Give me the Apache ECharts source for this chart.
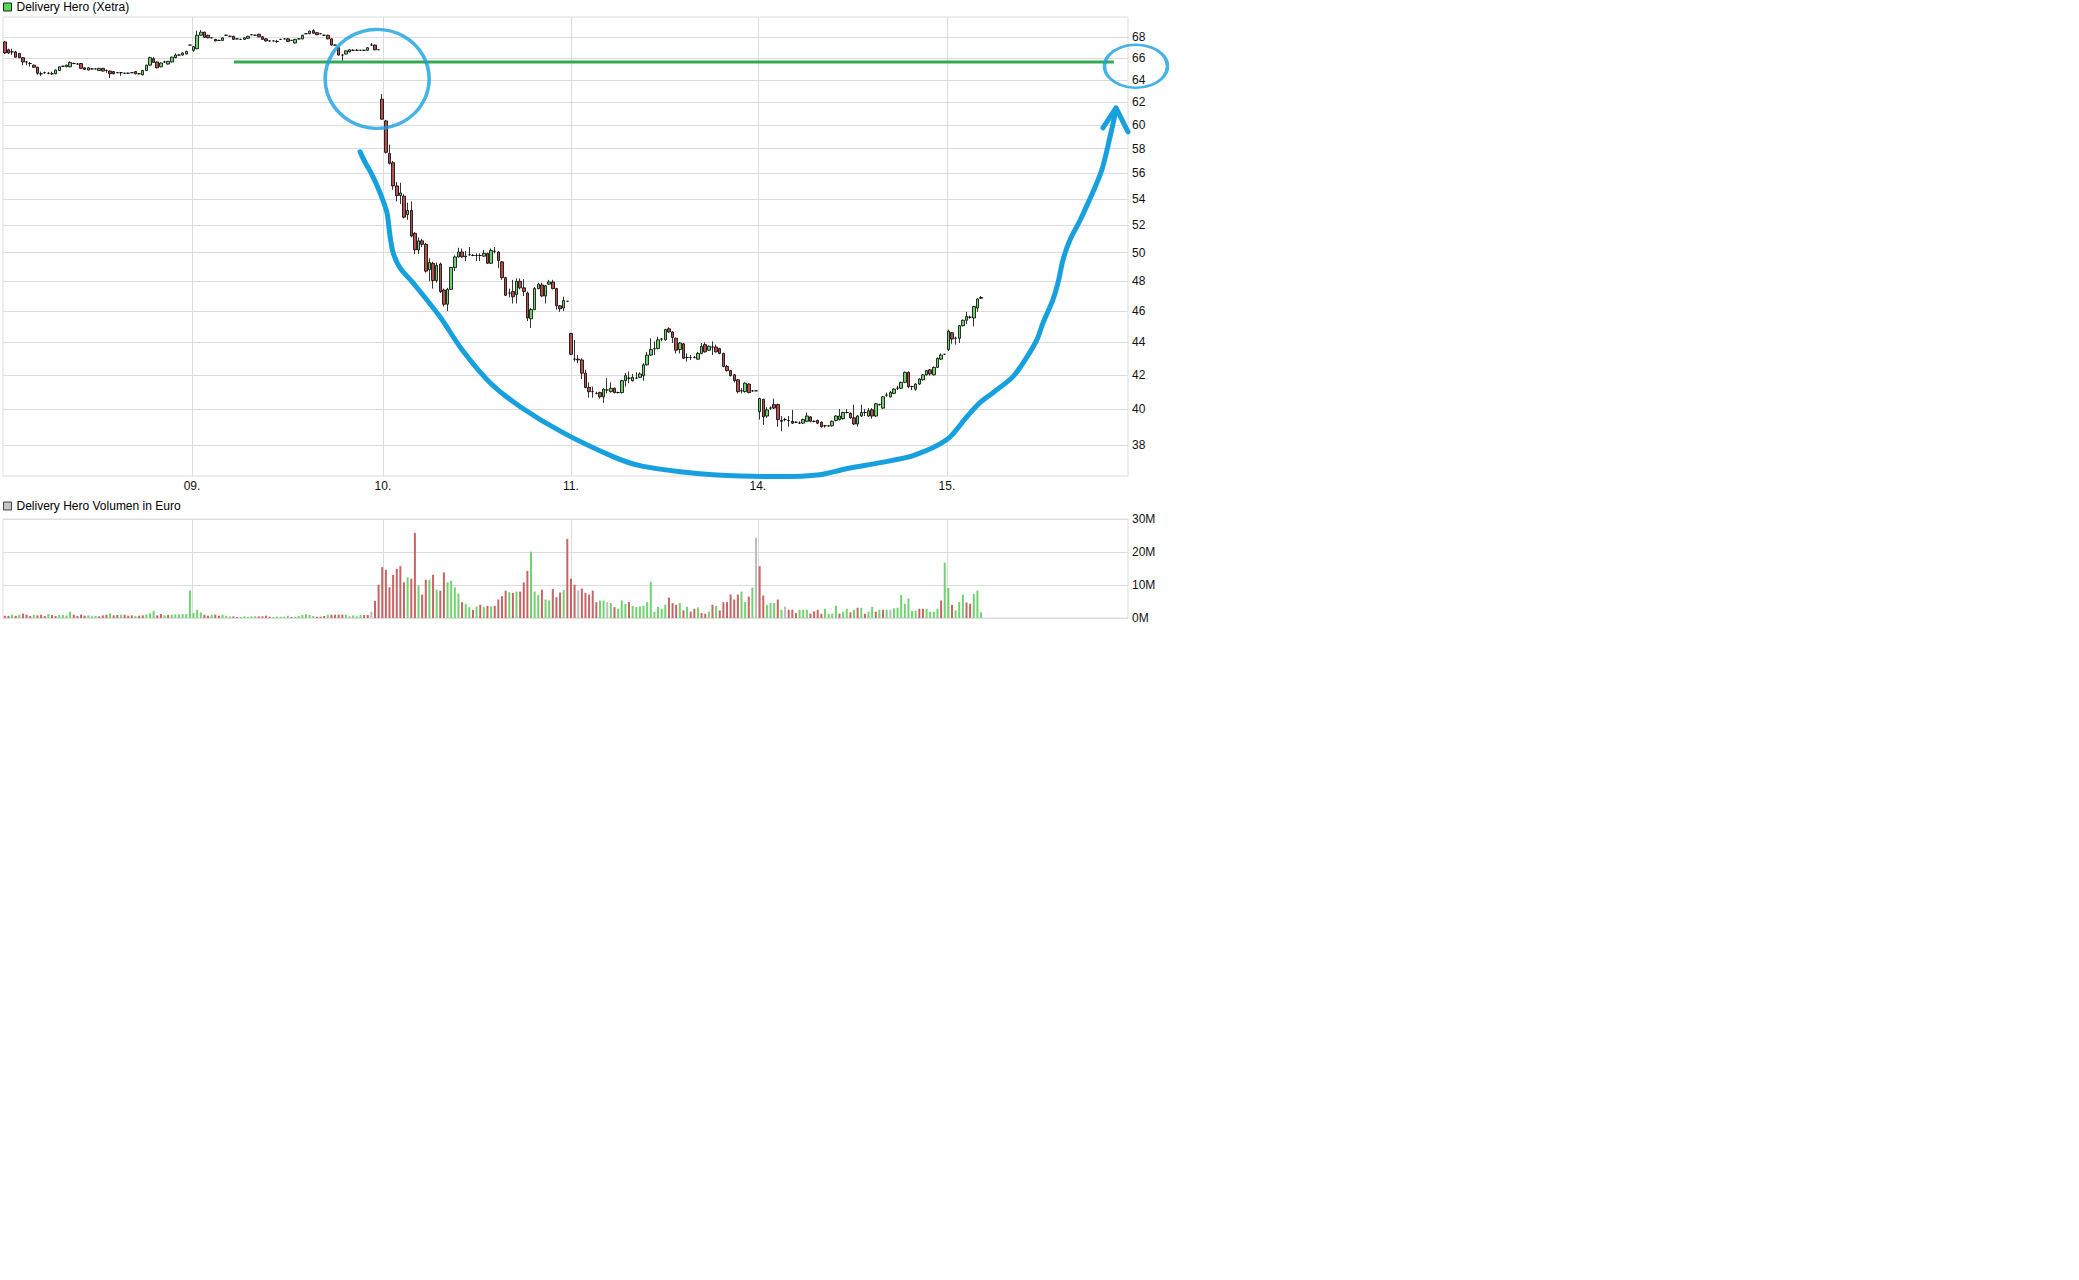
<!DOCTYPE html>
<html><head><meta charset="utf-8">
<script src="https://cdn.jsdelivr.net/npm/echarts@6/dist/echarts.min.js"></script>
<style>html,body{margin:0;padding:0;background:#fff}#c{width:2079px;height:1280px}</style>
</head><body><div id="c"></div>
<script>
// ---------- data ----------
const dayLabels = ['08.', '09.', '10.', '11.', '14.', '15.'];
const slotsPerDay = 52;          // 10-minute slots, 09:00 .. 17:30
const totalSlots = 310;          // axis length (last day partly empty)
const dayTickSlots = [52.08, 104.7, 156.5, 208.0, 260.1];   // where the day gridlines 09. .. 15. sit
const priceTicks = [38, 40, 42, 44, 46, 48, 50, 52, 54, 56, 58, 60, 62, 64, 66, 68];
const priceMin = 36.35, priceMax = 70;
const volumeMax = 30, volumeStep = 10;

// candles: [open, close, low, high]
const day08 = [
[67.55,66.5,66.4,67.65],[66.8,66.5,66.4,66.9],[66.6,66.6,66.3,66.9],[66.6,66.1,66.05,66.7],[66.45,66.05,66.0,66.5],
[66.05,65.65,65.35,66.1],[65.65,65.65,65.35,65.75],[65.5,65.5,65.2,65.65],[65.35,65.15,65.1,65.4],[65.15,64.6,64.45,65.2],
[64.55,64.55,64.35,64.75],[64.65,64.65,64.55,64.75],[64.6,64.6,64.5,64.7],[64.55,64.55,64.45,64.75],[64.55,64.9,64.5,64.95],
[64.85,65.2,64.8,65.25],[65.25,65.25,65.2,65.3],[65.2,65.35,65.15,65.4],[65.2,65.6,65.15,65.7],[65.5,65.5,65.45,65.6],
[65.45,65.45,65.4,65.55],[65.5,65.05,65.0,65.55],[65.1,64.95,64.9,65.15],[64.9,65.1,64.85,65.15],[65.0,65.0,64.95,65.05],
[65.0,65.0,64.95,65.05],[64.85,65.05,64.8,65.1],[65.05,64.8,64.75,65.1],[64.85,64.85,64.65,64.95],[64.8,64.55,64.15,64.85],
[64.75,64.55,64.5,64.8],[64.65,64.65,64.6,64.7],[64.65,64.65,64.35,64.7],[64.6,64.6,64.55,64.65],[64.6,64.6,64.55,64.65],
[64.65,64.65,64.6,64.7],[64.75,64.55,64.5,64.8],[64.55,64.55,64.5,64.6],[64.45,64.85,64.4,64.9],[64.85,65.35,64.8,65.4],
[65.35,66.05,65.3,66.15],[65.95,65.6,65.55,66.1],[65.65,65.1,65.05,65.7],[65.2,65.55,65.15,65.6],[65.65,65.65,65.55,65.75],
[65.45,65.7,65.4,65.75],[65.65,66.1,65.6,66.15],[66.05,66.3,66.0,66.45],[66.3,66.3,66.25,66.35],[66.3,66.5,66.25,66.55],
[66.4,66.65,66.35,66.7],[67.25,67.25,67.25,67.25]
];
const day09 = [
[66.75,67.1,66.6,67.15],[66.9,68.2,66.85,68.65],[68.2,68.5,68.15,68.7],[68.5,68.0,67.95,68.55],[68.2,67.95,67.9,68.25],
[67.95,67.95,67.9,68.0],[67.8,67.65,67.6,67.85],[67.7,67.7,67.65,67.75],[67.7,67.95,67.65,68.0],[68.2,68.2,68.15,68.25],
[68.1,68.1,68.05,68.15],[68.1,67.8,67.75,68.15],[67.85,67.85,67.8,67.9],[67.8,67.8,67.75,67.85],[67.8,67.95,67.75,68.0],
[67.9,68.1,67.85,68.15],[68.25,68.25,68.2,68.3],[68.2,68.2,68.15,68.25],[68.3,68.05,68.0,68.35],[68.05,67.8,67.75,68.1],
[67.85,67.65,67.6,67.9],[67.65,67.65,67.6,67.7],[67.65,67.65,67.6,67.7],[67.6,67.6,67.45,67.75],[67.8,67.8,67.75,67.85],
[67.85,67.85,67.8,67.9],[67.85,67.6,67.55,67.9],[67.7,67.7,67.65,67.75],[67.45,67.8,67.4,67.85],[67.85,67.85,67.8,67.9],
[67.85,68.2,67.8,68.25],[68.35,68.35,68.3,68.4],[68.35,68.6,68.3,68.65],[68.65,68.4,68.35,68.8],[68.45,68.25,68.2,68.5],
[68.35,68.35,68.3,68.4],[68.2,68.2,68.15,68.25],[68.2,67.85,67.8,68.25],[67.85,67.25,67.2,67.9],[67.25,67.25,67.2,67.3],
[67.0,66.3,66.25,67.05],[66.3,66.3,65.75,66.35],[66.4,66.7,66.35,66.75],[66.6,66.8,66.55,66.85],[66.75,66.75,66.7,66.85],
[66.75,66.75,66.7,66.85],[66.75,66.75,66.7,66.8],[66.75,66.75,66.7,66.8],[66.75,67.0,66.7,67.05],[67.25,67.25,67.2,67.45],
[67.25,66.8,66.75,67.3],[66.8,66.8,66.8,66.8]
];
const day10 = [
[62.25,60.5,60.45,62.7],[60.35,57.7,57.6,60.45],[57.6,56.8,56.7,58.35],[56.85,55.0,54.7,57.0],[55.0,54.25,53.8,55.3],
[54.25,54.45,53.6,55.25],[54.2,52.6,52.5,54.35],[52.8,53.1,52.4,53.7],[53.1,51.2,51.1,53.8],[51.4,50.2,49.9,51.5],
[50.2,50.85,49.9,51.1],[50.85,50.6,50.4,51.0],[50.6,48.7,48.6,50.7],[48.8,49.3,48.0,49.6],[49.25,48.05,47.5,49.35],
[48.05,49.1,47.9,49.3],[49.2,47.3,47.2,49.3],[47.4,46.45,46.3,47.5],[46.45,47.45,46.0,47.55],[47.45,48.95,47.4,49.0],
[48.95,49.7,48.7,49.8],[49.7,50.05,49.65,50.35],[50.05,49.7,49.65,50.3],[49.7,49.75,49.4,50.1],[49.85,49.85,49.8,50.4],
[49.8,49.8,49.75,49.9],[49.8,49.8,49.4,49.95],[49.8,49.8,49.4,49.95],[49.75,49.95,49.7,50.2],[49.95,49.25,49.2,50.0],
[49.25,50.15,49.2,50.3],[50.1,50.1,49.95,50.4],[50.05,49.45,48.9,50.1],[49.35,48.25,48.1,49.4],[48.25,47.05,47.0,48.3],
[47.2,47.2,46.9,47.5],[47.3,46.95,46.5,48.1],[47.1,48.0,46.5,48.2],[48.0,47.55,47.45,48.2],[47.55,47.3,47.0,48.15],
[47.2,45.55,45.35,47.3],[45.5,46.1,44.9,46.2],[46.1,47.5,46.05,47.6],[47.5,47.8,47.45,47.9],[47.75,47.0,46.95,47.9],
[47.0,47.7,46.5,47.75],[47.8,47.95,47.75,48.1],[47.95,47.5,47.45,48.1],[47.5,46.35,46.1,47.55],[46.35,46.15,45.95,46.4],
[46.2,46.7,46.0,46.95],[46.65,46.65,46.65,46.65]
];
const day11 = [
[44.55,43.25,43.2,44.6],[42.95,42.95,42.8,44.15],[42.95,42.9,42.7,43.2],[42.9,42.1,41.75,43.0],[42.1,41.25,41.2,42.3],
[41.25,41.0,40.65,41.55],[41.0,41.0,40.65,41.3],[40.9,40.9,40.85,41.0],[40.95,40.7,40.6,41.0],[40.7,41.15,40.35,41.2],
[41.1,41.1,40.9,41.8],[41.0,41.2,40.95,41.55],[41.2,40.95,40.9,41.25],[40.95,40.95,40.9,41.0],[40.95,41.65,40.9,41.7],
[41.65,41.95,41.3,42.1],[41.8,41.8,41.5,42.2],[41.65,41.85,41.6,42.05],[41.8,41.8,41.75,42.15],[41.85,42.05,41.8,42.15],
[41.95,42.6,41.65,42.7],[42.6,43.2,42.55,43.4],[43.2,43.55,43.15,44.25],[43.6,43.6,43.2,44.05],[43.6,44.15,43.55,44.35],
[44.2,44.2,44.05,44.25],[44.15,44.8,44.1,44.85],[44.85,44.65,44.6,44.95],[44.65,44.3,43.95,44.7],[44.25,43.5,43.3,44.3],
[43.55,43.95,43.3,44.0],[43.9,43.0,42.95,43.95],[43.05,43.05,42.8,43.3],[43.05,43.05,42.9,43.2],[43.05,43.05,43.0,43.15],
[42.95,43.3,42.9,43.4],[43.3,43.75,43.25,43.95],[43.85,43.4,43.35,44.0],[43.5,43.75,43.45,43.8],[43.7,43.7,43.2,44.05],
[43.7,43.4,43.35,43.85],[43.6,43.3,43.25,43.65],[43.3,42.5,42.45,43.35],[42.5,42.25,42.2,42.6],[42.25,41.95,41.9,42.3],
[42.0,41.65,41.55,42.05],[41.7,41.0,40.9,41.75],[41.05,41.05,40.9,41.2],[41.0,41.5,40.95,41.55],[41.45,40.95,40.9,41.5],
[41.05,41.05,41.0,41.1],[41.05,41.05,41.05,41.05]
];
const day14 = [
[39.85,40.6,39.4,40.65],[40.55,39.55,39.1,40.6],[39.6,39.95,39.5,40.1],[40.05,40.05,39.95,40.15],[40.25,40.05,40.0,40.6],
[40.25,39.4,39.0,40.3],[39.35,39.3,38.75,39.6],[39.4,39.4,39.3,39.5],[39.35,39.35,39.0,39.6],[39.3,39.2,39.15,39.95],
[39.25,39.25,39.2,39.3],[39.2,39.2,39.15,39.3],[39.2,39.4,39.15,39.45],[39.3,39.6,39.25,39.8],[39.55,39.3,39.25,39.6],
[39.3,39.3,39.25,39.35],[39.35,39.2,39.15,39.4],[39.25,39.0,38.95,39.3],[39.05,39.05,38.95,39.1],[39.05,39.05,39.0,39.1],
[39.05,39.3,39.0,39.35],[39.35,39.6,39.3,39.65],[39.4,39.6,39.35,40.0],[39.45,39.8,39.4,39.85],[39.8,39.8,39.75,40.0],
[39.75,39.5,39.45,39.8],[39.5,39.15,39.1,40.25],[39.15,39.6,39.0,39.65],[39.6,39.8,39.55,40.25],[39.8,39.8,39.6,40.0],
[39.6,39.9,39.55,40.05],[39.95,39.6,39.45,40.05],[39.6,40.3,39.55,40.35],[40.25,40.25,40.2,40.3],[40.05,40.7,40.0,40.75],
[40.8,40.8,40.7,40.95],[40.7,40.95,40.65,41.05],[40.9,41.15,40.85,41.2],[41.2,41.2,41.1,41.35],[41.2,41.55,41.15,41.6],
[41.55,42.15,41.5,42.2],[42.15,41.3,41.2,42.2],[41.3,41.3,41.1,41.35],[41.15,41.45,41.05,41.5],[41.45,41.75,41.4,41.8],
[41.7,42.0,41.65,42.05],[42.0,42.25,41.95,42.3],[42.3,42.05,41.95,42.35],[42.0,42.45,41.95,42.5],[42.45,43.0,42.4,43.05],
[42.95,43.2,42.9,43.3],[43.25,43.25,43.25,43.25]
];
const day15 = [
[43.55,44.7,43.45,44.8],[44.6,44.2,43.9,44.65],[44.25,44.25,43.85,44.35],[44.25,45.05,43.95,45.1],[45.05,45.4,45.0,45.45],
[45.4,45.65,45.15,45.95],[45.6,45.6,45.5,45.7],[45.55,46.3,45.0,46.35],[46.2,46.8,45.95,46.85],[46.85,46.9,46.8,47.0]
];

// volume in million euro, and bar colour per slot (g = up, r = down, n = unchanged)
const vol08 = [0.7,0.7,1.0,0.7,1.0,1.3,1.0,0.6,1.0,0.8,1.0,0.6,1.2,0.9,0.6,0.9,0.9,0.8,1.9,1.0,0.6,1.0,0.7,0.8,0.5,0.6,0.5,0.8,1.0,1.4,0.8,0.9,1.0,1.0,0.7,0.8,0.6,0.7,0.8,1.1,1.4,2.2,0.8,1.2,0.8,0.9,1.0,1.1,1.1,1.2,1.2,8.3];
const dir08 = 'rrgrgrrrgrrrgrrggggrrrrgggrrrgrrgrrrgrrgggrrgrggggggr'.slice(0, 52);
const vol09 = [1.5,2.5,1.7,1.0,0.7,1.0,1.0,0.7,1.0,0.7,0.5,0.5,0.3,0.3,0.5,0.3,0.5,0.5,0.5,0.5,0.7,0.4,0.3,0.4,0.4,0.4,0.7,0.3,0.4,0.6,0.9,1.1,0.9,0.6,0.4,0.4,0.6,1.0,1.0,1.0,1.0,1.0,1.0,0.5,0.8,0.5,0.9,0.9,0.9,1.9,5.2,10.1];
const dir09 = 'gggrrgrrgggrrgggggrrrrgggggrggggggrrrgrrrrgggggrrnrr';
const vol10 = [15.4,14.6,9.3,13.1,14.9,15.7,10.8,12.3,11.9,25.8,9.8,7.1,11.6,11.6,13.1,8.6,8.3,13.8,10.8,11.3,9.3,7.4,4.8,4.3,3.3,2.5,3.5,4.0,3.3,3.7,3.5,3.7,5.6,6.6,8.3,7.8,7.6,8.0,8.0,10.8,14.3,20.1,8.0,7.0,8.6,5.6,5.3,8.8,6.3,7.7,8.4,24.0];
const dir10 = 'rrrrrrrgrrgrrgrgrrggggrggrgrgrgrrrrgrgrrrgggrggrrrgr';
const vol11 = [11.9,10.1,8.4,8.9,7.6,7.1,8.3,4.8,5.3,5.3,4.8,4.5,3.3,2.8,5.3,4.3,4.8,3.7,3.3,3.5,3.7,4.8,11.0,1.9,3.4,2.8,4.0,6.2,4.5,4.0,4.5,2.3,3.4,1.9,2.8,3.2,1.5,1.3,1.9,4.0,3.7,2.3,4.8,4.8,7.1,5.6,7.1,8.0,4.8,6.5,9.2,24.3];
const dir11 = 'rrnrrrrrggngrgggrggggggggggrrrgrgrrgrrgrgrrrrrrggrgn';
const vol14 = [15.7,6.8,4.0,4.5,4.5,5.6,2.5,3.5,2.5,2.5,1.5,2.5,2.5,2.5,1.3,2.0,2.5,1.3,2.8,1.3,1.3,3.7,1.3,1.9,2.8,1.7,2.5,3.1,3.1,1.3,1.9,3.4,1.9,2.5,2.5,2.5,2.5,2.9,3.1,7.0,4.3,5.9,2.2,2.2,2.8,2.8,2.8,1.9,1.9,2.8,5.3,16.8];
const dir14 = 'rrgggrgnrrrgggrrrrggggrggrgrgrggrgrgngggggggrrggggrg';
const vol15 = [9.1,4.0,2.3,4.8,7.1,4.7,4.3,7.3,8.3,1.7];
const dir15 = 'grgggrrggg';

// hand-drawn annotations, in (slot, price) units
const resistanceLevel = 65.65;
const resistanceSpan = [63.65, 306.1];
const blueCurve = [
[98.4,57.74],[99.7,56.93],[101.7,55.87],[103.9,54.46],[105.8,52.93],[106.6,51.29],[107.5,49.99],[109.4,48.93],
[113.0,47.89],[120.4,45.63],[126.5,43.53],[134.2,41.53],[142.5,40.13],[154.3,38.67],[168.1,37.37],[175.5,36.89],
[186.6,36.57],[195.6,36.42],[214.1,36.32],[225.1,36.42],[232.6,36.74],[241.7,37.05],[250.8,37.42],[260.1,38.29],
[265.6,39.56],[269.2,40.36],[272.8,40.94],[278.3,41.89],[282.2,43.10],[284.9,44.16],[286.6,45.24],[289.3,46.75],
[290.7,47.89],[292.1,49.50],[294.0,50.92],[297.0,52.48],[302.6,56.11],[305.3,59.33],[306.7,61.30]
];
const blueArrowHead = [[303.1,59.75],[306.7,61.48],[310.0,59.41]];
const gapCircle = [103.1, 64.08];
const targetCircle = [312.2, 65.25];

// ---------- build ----------
const days = [day08, day09, day10, day11, day14, day15];
const vols = [vol08, vol09, vol10, vol11, vol14, vol15];
const dirs = [dir08, dir09, dir10, dir11, dir14, dir15];
const categories = [];
for (let i = 0; i < totalSlots; i++) {
  const d = Math.floor(i / slotsPerDay), k = i % slotsPerDay, m = 540 + 10 * k;
  categories.push(dayLabels[d] + ' ' + String(Math.floor(m / 60)).padStart(2, '0') + ':' + String(m % 60).padStart(2, '0'));
}
const candles = [];
days.forEach(d => d.forEach(c => candles.push(c)));
const volColor = { g: '#6fd36f', r: '#c96464', n: '#bdbdbd' };
const volumes = [];
vols.forEach((v, di) => v.forEach((x, j) => volumes.push({ value: x, itemStyle: { color: volColor[dirs[di][j]] || volColor.n } })));

const FONT = '"Liberation Sans", Arial, Helvetica, sans-serif';
const GRIDC = '#dcdcdc';
const BLUE = '#17a0de';

const dayLines = (withLabels) => ({
  silent: true, z: 1, symbol: ['none', 'none'], animation: false,
  lineStyle: { color: GRIDC, width: 1, type: 'solid' },
  emphasis: { disabled: true },
  label: withLabels
    ? { show: true, position: 'start', distance: 4, fontSize: 12, color: '#111', fontFamily: FONT, formatter: p => p.name }
    : { show: false },
  data: dayTickSlots.map((v, i) => ({ xAxis: v, name: dayLabels[i + 1] }))
});

const option = {
  animation: false,
  backgroundColor: '#fff',
  textStyle: { fontFamily: FONT },
  legend: [
    { left: 3, top: 1, padding: 0, itemWidth: 8, itemHeight: 8, itemGap: 5, selectedMode: false, icon: 'rect',
      textStyle: { fontSize: 12, color: '#000', fontFamily: FONT },
      data: [{ name: 'Delivery Hero (Xetra)', itemStyle: { color: '#4fdc4f', borderColor: '#222', borderWidth: 1 } }] },
    { left: 3, top: 500, padding: 0, itemWidth: 8, itemHeight: 8, selectedMode: false, icon: 'rect',
      textStyle: { fontSize: 12, color: '#000', fontFamily: FONT },
      data: [{ name: 'Delivery Hero Volumen in Euro', itemStyle: { color: '#c4c4c4', borderColor: '#444', borderWidth: 1 } }] }
  ],
  grid: [
    { left: 3, top: 17, width: 1125, height: 459, show: true, borderColor: GRIDC, borderWidth: 1, backgroundColor: '#fff' },
    { left: 3, top: 519, width: 1125, height: 99, show: true, borderColor: GRIDC, borderWidth: 1, backgroundColor: '#fff' }
  ],
  xAxis: [
    { type: 'category', gridIndex: 0, data: categories, position: 'top', show: false },
    { type: 'value', gridIndex: 0, min: 0, max: totalSlots, position: 'bottom', show: false },
    { type: 'category', gridIndex: 1, data: categories, position: 'top', show: false },
    { type: 'value', gridIndex: 1, min: 0, max: totalSlots, position: 'bottom', show: false }
  ],
  yAxis: [
    { type: 'log', gridIndex: 0, min: priceMin, max: priceMax, position: 'right',
      axisLine: { show: false }, axisTick: { show: false }, axisLabel: { show: false }, splitLine: { show: false } },
    { type: 'value', gridIndex: 1, min: 0, max: volumeMax, interval: volumeStep, position: 'right',
      axisLine: { show: false }, axisTick: { show: false },
      splitLine: { show: true, lineStyle: { color: GRIDC, width: 1 } },
      axisLabel: { margin: 4, fontSize: 12, color: '#111', fontFamily: FONT, formatter: '{value}M' } }
  ],
  series: [
    { type: 'line', name: 'dayGridPrice', xAxisIndex: 1, yAxisIndex: 0, data: [], silent: true, z: 1, markLine: dayLines(true) },
    { type: 'line', name: 'dayGridVolume', xAxisIndex: 3, yAxisIndex: 1, data: [], silent: true, z: 1, markLine: dayLines(false) },
    { type: 'candlestick', name: 'Delivery Hero (Xetra)', xAxisIndex: 0, yAxisIndex: 0, data: candles, barWidth: 3,
      itemStyle: { color: '#6fd36f', color0: '#b94c4c', borderColor: '#000', borderColor0: '#000', borderColorDoji: '#000', borderWidth: 0.8 },
      markLine: { silent: true, z: 1, symbol: ['none', 'none'], animation: false,
        lineStyle: { color: GRIDC, width: 1, type: 'solid' },
        label: { show: true, position: 'end', distance: 4, fontSize: 12, color: '#111', fontFamily: FONT, formatter: p => String(p.value) },
        emphasis: { disabled: true },
        data: priceTicks.map(v => ({ yAxis: v })) } },
    { type: 'bar', name: 'Delivery Hero Volumen in Euro', xAxisIndex: 2, yAxisIndex: 1, data: volumes, barWidth: 2,
      itemStyle: { color: '#c4c4c4' } },
    { type: 'line', name: 'resistance', xAxisIndex: 1, yAxisIndex: 0, silent: true, z: 5, symbol: 'none',
      data: [[resistanceSpan[0], resistanceLevel], [resistanceSpan[1], resistanceLevel]],
      lineStyle: { color: '#35a853', width: 3 } },
    { type: 'line', name: 'curve', xAxisIndex: 1, yAxisIndex: 0, silent: true, z: 6, symbol: 'none', smooth: 0.3, clip: false,
      data: blueCurve, lineStyle: { color: BLUE, width: 5, cap: 'round', join: 'round' } },
    { type: 'line', name: 'arrow', xAxisIndex: 1, yAxisIndex: 0, silent: true, z: 6, symbol: 'none', clip: false,
      data: blueArrowHead, lineStyle: { color: BLUE, width: 5, cap: 'round', join: 'round' } },
    { type: 'scatter', name: 'circle1', xAxisIndex: 1, yAxisIndex: 0, silent: true, z: 6, clip: false,
      symbol: 'circle', symbolSize: [104, 99], data: [gapCircle],
      itemStyle: { color: 'rgba(0,0,0,0)', borderColor: BLUE, borderWidth: 3.5 } },
    { type: 'scatter', name: 'circle2', xAxisIndex: 1, yAxisIndex: 0, silent: true, z: 6, clip: false,
      symbol: 'circle', symbolSize: [63, 43], data: [targetCircle],
      itemStyle: { color: 'rgba(0,0,0,0)', borderColor: BLUE, borderWidth: 3 } }
  ]
};
const chart = echarts.init(document.getElementById('c'), null, { renderer: 'svg' });
chart.setOption(option);
</script>
</body></html>
